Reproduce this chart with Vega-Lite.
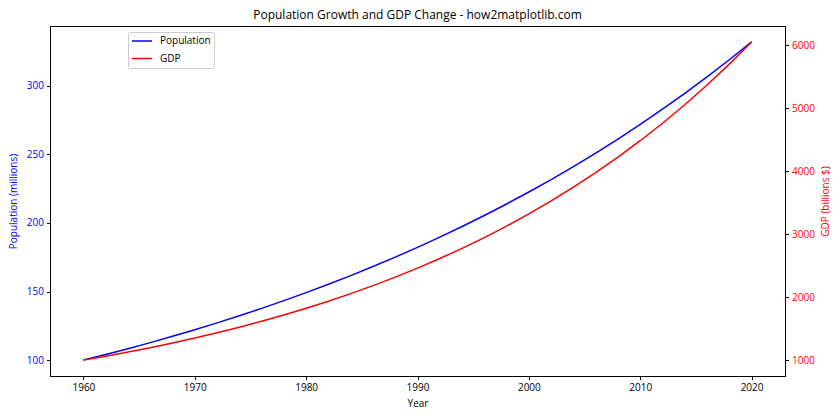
{
  "$schema": "https://vega.github.io/schema/vega-lite/v6.json",
  "width": 735,
  "height": 350,
  "autosize": {"type": "none"},
  "padding": {"left": 50, "top": 26, "right": 55, "bottom": 44},
  "background": "white",
  "config": {
    "font": "Open Sans",
    "view": {"stroke": "black", "strokeWidth": 1},
    "axis": {"grid": false, "domainColor": "black", "tickColor": "black", "tickSize": 3.5, "labelFontSize": 10, "titleFontSize": 10, "titleFontWeight": "normal", "labelPadding": 3}
  },
  "title": {"text": "Population Growth and GDP Change - how2matplotlib.com", "fontSize": 12, "fontWeight": "normal", "offset": 4, "color": "black"},
  "data": {"values": [
    {"year": 1960, "population": 100.0, "gdp": 1000.0},
    {"year": 1962, "population": 104.08, "gdp": 1061.8},
    {"year": 1964, "population": 108.33, "gdp": 1127.5},
    {"year": 1966, "population": 112.75, "gdp": 1197.2},
    {"year": 1968, "population": 117.35, "gdp": 1271.2},
    {"year": 1970, "population": 122.14, "gdp": 1349.9},
    {"year": 1972, "population": 127.12, "gdp": 1433.3},
    {"year": 1974, "population": 132.31, "gdp": 1522.0},
    {"year": 1976, "population": 137.71, "gdp": 1616.1},
    {"year": 1978, "population": 143.33, "gdp": 1716.0},
    {"year": 1980, "population": 149.18, "gdp": 1822.1},
    {"year": 1982, "population": 155.27, "gdp": 1934.8},
    {"year": 1984, "population": 161.61, "gdp": 2054.4},
    {"year": 1986, "population": 168.20, "gdp": 2181.5},
    {"year": 1988, "population": 175.07, "gdp": 2316.4},
    {"year": 1990, "population": 182.21, "gdp": 2459.6},
    {"year": 1992, "population": 189.65, "gdp": 2611.7},
    {"year": 1994, "population": 197.39, "gdp": 2773.2},
    {"year": 1996, "population": 205.44, "gdp": 2944.7},
    {"year": 1998, "population": 213.83, "gdp": 3126.8},
    {"year": 2000, "population": 222.55, "gdp": 3320.1},
    {"year": 2002, "population": 231.64, "gdp": 3525.4},
    {"year": 2004, "population": 241.09, "gdp": 3743.4},
    {"year": 2006, "population": 250.93, "gdp": 3974.9},
    {"year": 2008, "population": 261.17, "gdp": 4220.7},
    {"year": 2010, "population": 271.83, "gdp": 4481.7},
    {"year": 2012, "population": 282.92, "gdp": 4758.8},
    {"year": 2014, "population": 294.47, "gdp": 5053.1},
    {"year": 2016, "population": 306.49, "gdp": 5365.6},
    {"year": 2018, "population": 318.99, "gdp": 5697.3},
    {"year": 2020, "population": 332.01, "gdp": 6049.6}
  ]},
  "encoding": {
    "x": {"field": "year", "type": "quantitative", "scale": {"domain": [1957, 2023], "nice": false, "zero": false},
          "axis": {"title": "Year", "values": [1960, 1970, 1980, 1990, 2000, 2010, 2020], "format": "d", "titlePadding": 6, "labelFlush": false}}
  },
  "layer": [
    {
      "mark": {"type": "line", "strokeWidth": 1.5},
      "encoding": {
        "y": {"field": "population", "type": "quantitative", "scale": {"domain": [88.4, 343.6], "nice": false, "zero": false},
              "axis": {"title": "Population (millions)", "orient": "left", "values": [100, 150, 200, 250, 300], "format": "d", "labelColor": "blue", "titleColor": "blue", "titlePadding": 8}},
        "color": {"datum": "Population", "type": "nominal",
                  "scale": {"domain": ["Population", "GDP"], "range": ["#0000ff", "#ff0000"]},
                  "legend": {"title": null, "orient": "none", "legendX": 78, "legendY": 6, "symbolType": "stroke", "symbolStrokeWidth": 1.5, "symbolSize": 400, "labelFontSize": 10, "labelColor": "black", "labelOffset": 7, "clipHeight": 12, "rowPadding": 5.5, "strokeColor": "#cccccc", "fillColor": "white", "padding": 3, "cornerRadius": 2}}
      }
    },
    {
      "mark": {"type": "line", "strokeWidth": 1.5},
      "encoding": {
        "y": {"field": "gdp", "type": "quantitative", "scale": {"domain": [747.5, 6302.5], "nice": false, "zero": false},
              "axis": {"title": "GDP (billions $)", "orient": "right", "values": [1000, 2000, 3000, 4000, 5000, 6000], "format": "d", "labelColor": "red", "titleColor": "red", "titleAngle": 270, "titleBaseline": "top", "titlePadding": 6}},
        "color": {"datum": "GDP", "type": "nominal"}
      }
    }
  ],
  "resolve": {"scale": {"y": "independent"}}
}
